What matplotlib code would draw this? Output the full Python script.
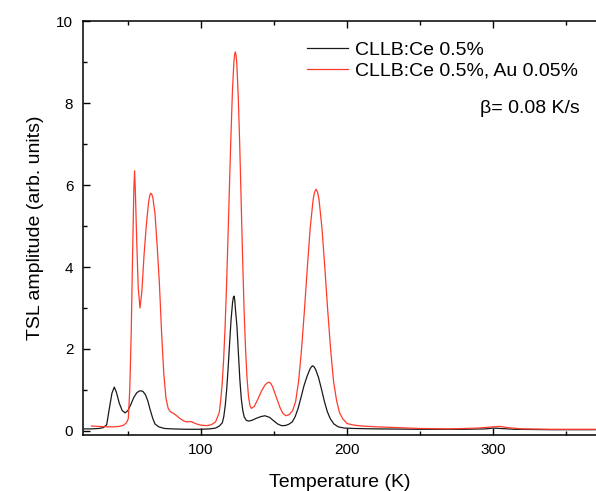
import numpy as np
import matplotlib
matplotlib.use('Agg')
import matplotlib.pyplot as plt
from matplotlib.ticker import MultipleLocator

plt.rcParams['font.family'] = ['Liberation Sans', 'DejaVu Sans']

# CLLB:Ce 0.5% (black)
temp_ce = [20, 25, 30, 33, 35.4, 37, 39, 40.6, 42, 44, 46, 48, 50, 52, 54, 56, 57.5, 58.9, 60.3,
           62, 63.5, 65, 67, 68.5, 71, 75, 80, 90, 100, 106, 110, 112.6, 114.6, 115.6, 116.6,
           117.6, 118.6, 119.6, 120.6, 121.6, 122.1, 122.6, 123.1, 123.6, 124.6, 125.6, 126.6,
           127.6, 128.6, 129.6, 131, 132.5, 135, 138, 141, 143.8, 147, 150, 152.5, 155, 157.5,
           160, 162.5, 164.5, 166.5, 168.5, 170.5, 172.5, 174.5, 175.5, 176.5, 177.5, 178.5, 180.5,
           182.5, 184.5, 186.5, 188.5, 191, 194, 198, 205, 220, 250, 280, 295, 300, 305, 315, 340,
           370]
tsl_ce = [0.05, 0.05, 0.06, 0.08, 0.15, 0.5, 0.92, 1.07, 0.95, 0.68, 0.5, 0.44, 0.5, 0.65, 0.82,
          0.93, 0.97, 0.98, 0.96, 0.88, 0.74, 0.54, 0.3, 0.17, 0.1, 0.06, 0.05, 0.04, 0.04, 0.05,
          0.07, 0.12, 0.2, 0.35, 0.62, 1.02, 1.55, 2.15, 2.72, 3.13, 3.25, 3.29, 3.2, 2.96, 2.56,
          1.9, 1.25, 0.78, 0.5, 0.34, 0.26, 0.24, 0.26, 0.31, 0.35, 0.37, 0.33, 0.24, 0.17, 0.13,
          0.13, 0.16, 0.22, 0.35, 0.55, 0.82, 1.1, 1.32, 1.5, 1.56, 1.59, 1.56, 1.5, 1.3, 1.02,
          0.72, 0.47, 0.3, 0.17, 0.1, 0.07, 0.06, 0.05, 0.04, 0.04, 0.05, 0.07, 0.06, 0.04, 0.03,
          0.03]

# CLLB:Ce 0.5%, Au 0.05% (red)
temp_au = [25, 30, 35, 40, 44, 47, 49, 50.2, 51.2, 52.2, 53.2, 54, 54.5, 55, 56, 57, 58.2, 59.5,
           61, 62.5, 64, 64.8, 65.5, 66.2, 67, 68.5, 70, 71.5, 73, 74.5, 76, 77.5, 79, 81, 83, 85,
           87, 89, 91, 93, 95, 97, 100, 104, 107, 110, 112.5, 113.5, 114.5, 115.5, 116.5, 117.5,
           118.5, 119.5, 120.5, 121.5, 122.5, 123, 123.5, 124, 124.5, 125.5, 126.5, 127.5, 128.5,
           129.5, 130.5, 131.5, 132.5, 133.5, 134.5, 136.5, 139, 141.5, 144, 145.3, 146.6, 147.8,
           149, 151.5, 154, 156, 158.2, 160.5, 162.8, 164.8, 166.8, 168.8, 170.8, 172.8, 174.8,
           176.8, 177.8, 178.8, 179.8, 180.8, 182.8, 184.8, 186.8, 188.8, 190.8, 192.8, 194.8, 197,
           200, 205, 210, 220, 235, 250, 270, 290, 300, 305, 310, 320, 340, 370]
tsl_au = [0.12, 0.11, 0.1, 0.1, 0.11, 0.14, 0.2, 0.3, 1.0, 2.4, 4.4, 5.9, 6.35, 5.9, 4.6, 3.5,
          3.0, 3.4, 4.3, 5.0, 5.55, 5.73, 5.8, 5.78, 5.7, 5.3, 4.5, 3.6, 2.4, 1.4, 0.8, 0.55, 0.47,
          0.43, 0.38, 0.32, 0.27, 0.23, 0.22, 0.23, 0.2, 0.17, 0.14, 0.13, 0.15, 0.22, 0.45, 0.75,
          1.15, 1.75, 2.55, 3.55, 4.75, 6.0, 7.2, 8.27, 9.0, 9.18, 9.25, 9.17, 8.97, 8.16, 7.0, 5.6,
          4.2, 2.95, 2.0, 1.3, 0.85, 0.62, 0.55, 0.6, 0.78, 0.98, 1.13, 1.17, 1.19, 1.16, 1.08,
          0.83, 0.58, 0.43, 0.37, 0.4, 0.5, 0.72, 1.2, 1.97, 2.93, 3.98, 4.96, 5.65, 5.83, 5.9,
          5.83, 5.65, 4.96, 3.98, 2.93, 1.97, 1.2, 0.75, 0.45, 0.3, 0.18, 0.14, 0.12, 0.1, 0.08,
          0.06, 0.05, 0.07, 0.1, 0.11, 0.08, 0.05, 0.04, 0.04]

fig = plt.figure(figsize=(5.96, 4.91), dpi=100)
ax = fig.add_axes([0.1393, 0.114, 0.8607, 0.843])

ax.plot(temp_ce, tsl_ce, color='#1a1a1a', linewidth=0.9, label='CLLB:Ce 0.5%')
ax.plot(temp_au, tsl_au, color='#ff3b2b', linewidth=0.9, label='CLLB:Ce 0.5%, Au 0.05%')

ax.set_xlim(19.2, 370.5)
ax.set_ylim(-0.1, 10)

ax.xaxis.set_major_locator(MultipleLocator(100))
ax.xaxis.set_minor_locator(MultipleLocator(50))
ax.yaxis.set_major_locator(MultipleLocator(2))
ax.yaxis.set_minor_locator(MultipleLocator(1))

ax.tick_params(which='both', direction='in', top=True, right=False, width=1.0, labelsize=11)
ax.tick_params(which='major', length=5)
ax.tick_params(which='minor', length=3)
ax.tick_params(axis='y', pad=7)
ax.tick_params(axis='x', pad=6)

ax.spines['right'].set_visible(False)
for side in ['left', 'bottom', 'top']:
    ax.spines[side].set_linewidth(1.1)

ax.set_xlabel('Temperature (K)', fontsize=14, labelpad=12)
ax.set_ylabel('TSL amplitude (arb. units)', fontsize=14, labelpad=9)

ax.legend(loc='upper left', bbox_to_anchor=(0.417, 0.975), frameon=False, fontsize=14,
          borderpad=0, handlelength=2.15, handletextpad=0.35, labelspacing=0.15)

ax.text(0.969, 0.79, 'β= 0.08 K/s', transform=ax.transAxes, ha='right', va='center',
        fontsize=14)

plt.savefig('out.png', dpi=100)
plt.close()
